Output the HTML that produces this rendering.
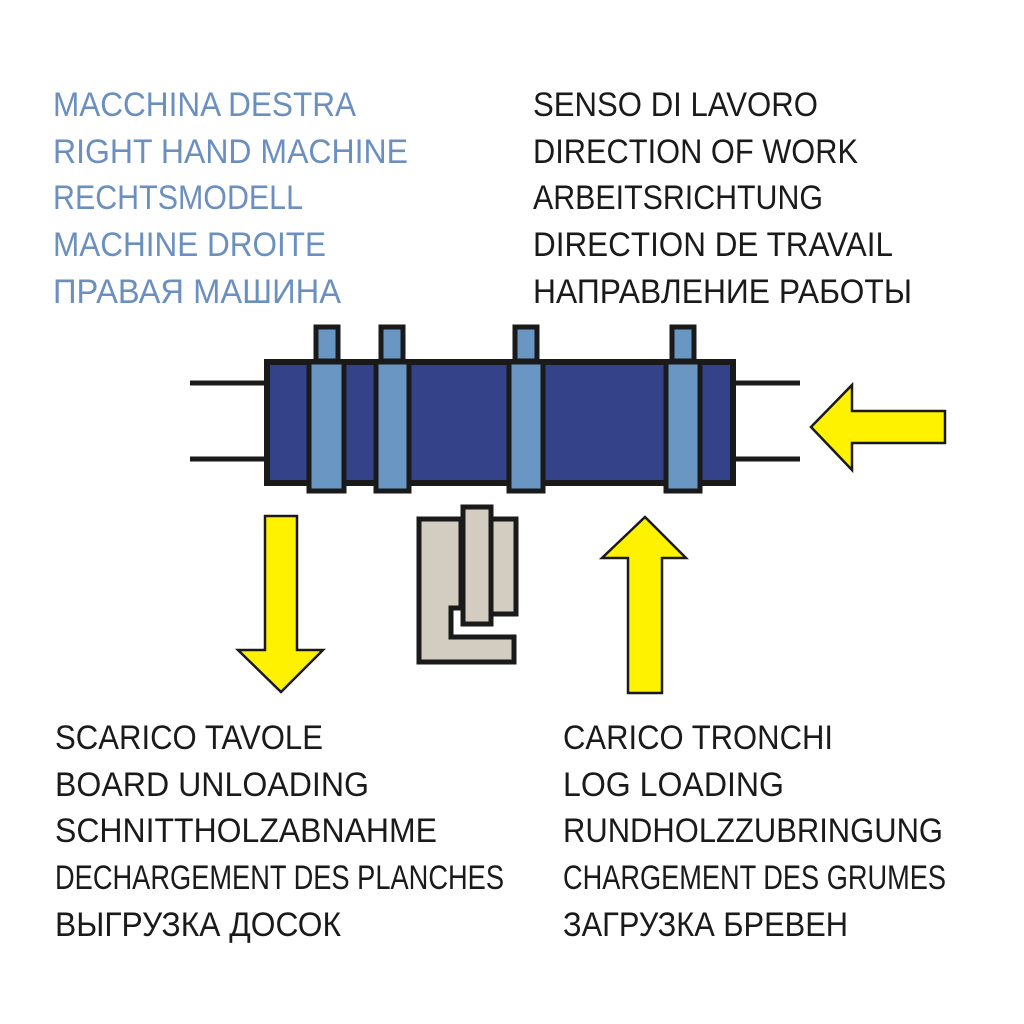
<!DOCTYPE html>
<html><head><meta charset="utf-8"><style>
html,body{margin:0;padding:0;background:#fff;}
svg{display:block;}
text{font-family:"Liberation Sans","DejaVu Sans",sans-serif;font-size:34px;}
.b{fill:#6b8fbf;}
.k{fill:#1a1a1a;}
</style></head><body>
<svg width="1024" height="1024" viewBox="0 0 1024 1024" xmlns="http://www.w3.org/2000/svg">
<rect width="1024" height="1024" fill="#fff"/>
<g class="b">
<text x="53" y="116" textLength="303" lengthAdjust="spacingAndGlyphs">MACCHINA DESTRA</text>
<text x="53" y="163" textLength="355" lengthAdjust="spacingAndGlyphs">RIGHT HAND MACHINE</text>
<text x="53" y="209" textLength="250" lengthAdjust="spacingAndGlyphs">RECHTSMODELL</text>
<text x="53" y="256" textLength="273" lengthAdjust="spacingAndGlyphs">MACHINE DROITE</text>
<text x="53" y="303" textLength="288" lengthAdjust="spacingAndGlyphs">ПРАВАЯ МАШИНА</text>
</g>
<g class="k">
<text x="533" y="116" textLength="285" lengthAdjust="spacingAndGlyphs">SENSO DI LAVORO</text>
<text x="533" y="163" textLength="325" lengthAdjust="spacingAndGlyphs">DIRECTION OF WORK</text>
<text x="533" y="209" textLength="290" lengthAdjust="spacingAndGlyphs">ARBEITSRICHTUNG</text>
<text x="533" y="256" textLength="360" lengthAdjust="spacingAndGlyphs">DIRECTION DE TRAVAIL</text>
<text x="533" y="303" textLength="379" lengthAdjust="spacingAndGlyphs">НАПРАВЛЕНИЕ РАБОТЫ</text>
<text x="55" y="749" textLength="268" lengthAdjust="spacingAndGlyphs">SCARICO TAVOLE</text>
<text x="55" y="796" textLength="314" lengthAdjust="spacingAndGlyphs">BOARD UNLOADING</text>
<text x="55" y="842" textLength="382" lengthAdjust="spacingAndGlyphs">SCHNITTHOLZABNAHME</text>
<text x="55" y="889" textLength="449" lengthAdjust="spacingAndGlyphs">DECHARGEMENT DES PLANCHES</text>
<text x="55" y="936" textLength="286" lengthAdjust="spacingAndGlyphs">ВЫГРУЗКА ДОСОК</text>
<text x="563" y="749" textLength="270" lengthAdjust="spacingAndGlyphs">CARICO TRONCHI</text>
<text x="563" y="796" textLength="221" lengthAdjust="spacingAndGlyphs">LOG LOADING</text>
<text x="563" y="842" textLength="380" lengthAdjust="spacingAndGlyphs">RUNDHOLZZUBRINGUNG</text>
<text x="563" y="889" textLength="383" lengthAdjust="spacingAndGlyphs">CHARGEMENT DES GRUMES</text>
<text x="563" y="936" textLength="285" lengthAdjust="spacingAndGlyphs">ЗАГРУЗКА БРЕВЕН</text>
</g>
<!-- shaft lines -->
<g stroke="#1a1a1a" stroke-width="5">
<line x1="190" y1="383" x2="266" y2="383"/>
<line x1="190" y1="459" x2="266" y2="459"/>
<line x1="734" y1="383" x2="800" y2="383"/>
<line x1="734" y1="459" x2="800" y2="459"/>
</g>
<!-- body -->
<rect x="267" y="362" width="466" height="121" fill="#34428a" stroke="#1a1a1a" stroke-width="6"/>
<g fill="#6a96c4" stroke="#1a1a1a" stroke-width="5">
<rect x="316" y="327" width="22" height="34"/>
<rect x="381" y="327" width="22" height="34"/>
<rect x="515" y="327" width="22" height="34"/>
<rect x="672" y="327" width="22" height="34"/>
<rect x="309" y="362" width="35" height="129"/>
<rect x="376" y="362" width="33" height="129"/>
<rect x="509" y="362" width="34" height="129"/>
<rect x="666" y="362" width="34" height="129"/>
</g>
<!-- arrows -->
<g fill="#fff200" stroke="#1a1a1a" stroke-width="2.5">
<polygon points="811,427 852,385 852,411 945,411 945,443 852,443 852,470"/>
<polygon points="265,516 297,516 297,650 323,650 281,692 238,650 265,650"/>
<polygon points="628,693 662,693 662,558 686,558 645,517 602,558 628,558"/>
</g>
<!-- gray machine -->
<g fill="#d3ccc0" stroke="#1a1a1a" stroke-width="5">
<rect x="490" y="519" width="26" height="95"/>
<polygon points="419,519 461,519 461,608 451,608 451,637 514,637 514,662 419,662"/>
<rect x="463" y="507" width="28" height="117"/>
</g>
</svg>
</body></html>
